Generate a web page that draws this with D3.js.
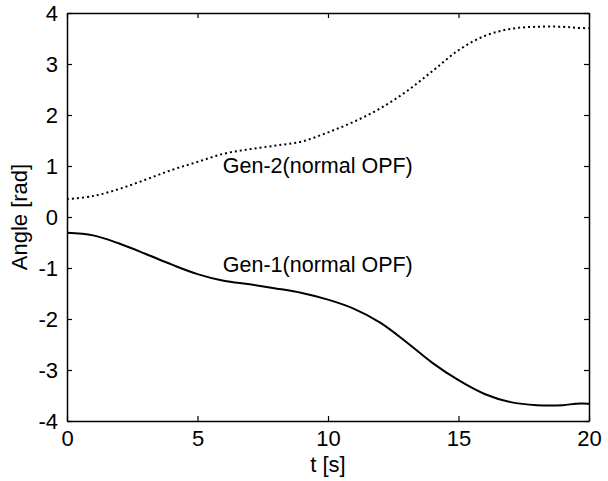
<!DOCTYPE html>
<html>
<head>
<meta charset="utf-8">
<script src="https://cdn.jsdelivr.net/npm/d3@7"></script>
<style>
  body { margin: 0; background: #fff; }
  svg text { font-family: "Liberation Sans", Arial, sans-serif; fill: #000; }
</style>
</head>
<body>
<div id="vis"></div>
<script>
// data
let time = [0, 1, 2, 3, 4, 5, 6, 7, 8, 9, 10, 11, 12, 13, 14, 15, 16, 17, 18, 19, 19.5, 20];
let gen1 = [-0.31, -0.36, -0.52, -0.72, -0.93, -1.12, -1.25, -1.32, -1.40, -1.49, -1.62, -1.80, -2.07, -2.45, -2.86, -3.20, -3.47, -3.63, -3.69, -3.69, -3.66, -3.66];
let gen2 = [0.35, 0.41, 0.55, 0.73, 0.92, 1.08, 1.24, 1.33, 1.40, 1.48, 1.66, 1.87, 2.13, 2.46, 2.86, 3.27, 3.55, 3.69, 3.73, 3.73, 3.71, 3.70];
let xTicks = [0, 5, 10, 15, 20];
let yTicks = [-4, -3, -2, -1, 0, 1, 2, 3, 4];

let margin = { top: 13, left: 67, right: 19, bottom: 60 },
  width = 608 - margin.left - margin.right,
  height = 481 - margin.top - margin.bottom;

let svg = d3.select('#vis')
  .append('svg')
  .attr('width', 608)
  .attr('height', 481);

let g = svg.append('g')
  .attr('transform', 'translate(' + margin.left + ',' + margin.top + ')');

let xScale = d3.scaleLinear().domain([0, 20]).range([0, width]);
let yScale = d3.scaleLinear().domain([-4, 4]).range([height, 0]);

// plain hyphen for negatives, like the original
let fmt = function(d) { return String(d); };

// axes, ticks pointing inward like matlab
let xAxis = g.append('g')
  .attr('transform', 'translate(0,' + height + ')')
  .call(d3.axisBottom(xScale).tickValues(xTicks).tickFormat(fmt).tickSizeInner(-5).tickSizeOuter(0).tickPadding(9));
let xTop = g.append('g')
  .call(d3.axisTop(xScale).tickValues(xTicks).tickSizeInner(-5).tickSizeOuter(0).tickFormat(''));
let yAxis = g.append('g')
  .call(d3.axisLeft(yScale).tickValues(yTicks).tickFormat(fmt).tickSizeInner(-5).tickSizeOuter(0).tickPadding(9));
let yRight = g.append('g')
  .attr('transform', 'translate(' + width + ',0)')
  .call(d3.axisRight(yScale).tickValues(yTicks).tickSizeInner(-5).tickSizeOuter(0).tickFormat(''));

[xAxis, xTop, yAxis, yRight].forEach(function(a) {
  a.select('.domain').attr('stroke', '#000').attr('stroke-width', 1.5);
  a.selectAll('.tick line').attr('stroke', '#000').attr('stroke-width', 1.2);
  a.selectAll('.tick text').style('font-size', '22px')
    .style('font-family', '"Liberation Sans", Arial, sans-serif');
});
xAxis.selectAll('.tick text').attr('dy', '0.71em');

// lines
let line1 = d3.line()
  .x(function(d, i) { return xScale(time[i]); })
  .y(function(d) { return yScale(d); })
  .curve(d3.curveCatmullRom.alpha(0.5));

g.append('path')
  .datum(gen1)
  .attr('d', line1)
  .attr('fill', 'none')
  .attr('stroke', '#000')
  .attr('stroke-width', 2);

g.append('path')
  .datum(gen2)
  .attr('d', line1)
  .attr('fill', 'none')
  .attr('stroke', '#000')
  .attr('stroke-width', 2)
  .attr('stroke-dasharray', '2,3');

// labels on the curves
g.append('text')
  .attr('x', xScale(5.97))
  .attr('y', yScale(0.86))
  .style('font-size', '21.5px')
  .text('Gen-2(normal OPF)');
g.append('text')
  .attr('x', xScale(5.97))
  .attr('y', yScale(-1.07))
  .style('font-size', '21.5px')
  .text('Gen-1(normal OPF)');

// axis titles
svg.append('text')
  .attr('x', margin.left + width / 2)
  .attr('y', 472)
  .attr('text-anchor', 'middle')
  .style('font-size', '22px')
  .text('t [s]');

svg.append('text')
  .attr('transform', 'translate(27,' + (margin.top + height / 2) + ') rotate(-90)')
  .attr('text-anchor', 'middle')
  .style('font-size', '22px')
  .text('Angle [rad]');
</script>
</body>
</html>
